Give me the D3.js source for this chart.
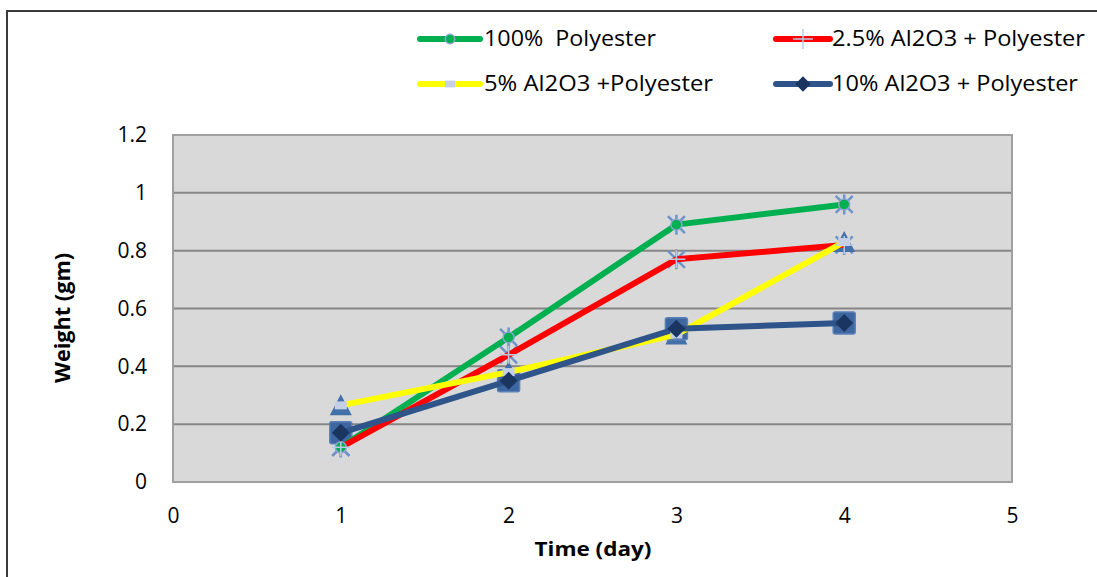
<!DOCTYPE html>
<html>
<head>
<meta charset="utf-8">
<script src="https://cdn.jsdelivr.net/npm/d3@7"></script>
<style>
  body { margin: 0; background: #fff; }
  text { font-family: "Open Sans", "Noto Sans", sans-serif; fill: #000; white-space: pre; }
</style>
</head>
<body>
<script>
// data
const days = [1, 2, 3, 4];
const seriesNames = ['100%  Polyester', '2.5% Al2O3 + Polyester', '5% Al2O3 +Polyester', '10% Al2O3 + Polyester'];
const polyester = [0.12, 0.50, 0.89, 0.96];
const al25 = [0.12, 0.44, 0.77, 0.82];
const al5 = [0.265, 0.38, 0.51, 0.83];
const al10 = [0.17, 0.35, 0.53, 0.55];
const xTicks = [0, 1, 2, 3, 4, 5];
const yTicks = [0, 0.2, 0.4, 0.6, 0.8, 1, 1.2];

const W = 1097, H = 577;
const plot = { left: 173, right: 1012, top: 135, bottom: 482 };

const series = [
  { name: seriesNames[0], values: polyester, color: '#00B050', back: 'asterisk', front: 'circle' },
  { name: seriesNames[1], values: al25, color: '#FF0000', back: 'asterisk', front: 'plus' },
  { name: seriesNames[2], values: al5, color: '#FFFF00', back: 'triangle', front: 'rect' },
  { name: seriesNames[3], values: al10, color: '#2F5489', back: 'square', front: 'diamond' }
];

const x = d3.scaleLinear().domain([0, 5]).range([plot.left, plot.right]);
const y = d3.scaleLinear().domain([0, 1.2]).range([plot.bottom, plot.top]);

const svg = d3.select('body').append('svg')
  .attr('width', W)
  .attr('height', H);

// outer chart border (right/bottom fall outside the picture)
svg.append('rect')
  .attr('x', 7).attr('y', 11)
  .attr('width', W + 20).attr('height', H + 20)
  .attr('fill', '#fff')
  .attr('stroke', '#3a3a3a')
  .attr('stroke-width', 2);

// plot area
svg.append('rect')
  .attr('x', plot.left).attr('y', plot.top)
  .attr('width', plot.right - plot.left).attr('height', plot.bottom - plot.top)
  .attr('fill', '#D9D9D9');

// gridlines
svg.append('g')
  .selectAll('line')
  .data(yTicks.slice(1, -1))
  .join('line')
  .attr('x1', plot.left).attr('x2', plot.right)
  .attr('y1', d => y(d)).attr('y2', d => y(d))
  .attr('stroke', '#868686')
  .attr('stroke-width', 2);

// plot border
svg.append('rect')
  .attr('x', plot.left).attr('y', plot.top)
  .attr('width', plot.right - plot.left).attr('height', plot.bottom - plot.top)
  .attr('fill', 'none')
  .attr('stroke', '#A0A0A0')
  .attr('stroke-width', 2);

// y axis labels
svg.append('g')
  .attr('transform', 'translate(' + (plot.left - 26) + ',0)')
  .call(d3.axisLeft(y).tickValues(yTicks).tickSize(0).tickPadding(0).tickFormat(d3.format('')))
  .call(g => g.select('.domain').remove())
  .selectAll('text')
  .style('font-family', '"Open Sans", sans-serif')
  .style('font-size', '21px')
  .attr('fill', '#000');

// x axis labels, sitting well below the plot like the original
svg.append('g')
  .attr('transform', 'translate(0,' + (plot.bottom + 26) + ')')
  .call(d3.axisBottom(x).tickValues(xTicks).tickSize(0).tickPadding(0).tickFormat(d3.format('d')))
  .call(g => g.select('.domain').remove())
  .selectAll('text')
  .style('font-family', '"Open Sans", sans-serif')
  .style('font-size', '21px')
  .attr('fill', '#000');

// axis titles
svg.append('text')
  .attr('x', 593).attr('y', 556)
  .attr('text-anchor', 'middle')
  .style('font-size', '20px')
  .style('font-weight', 'bold')
  .attr('textLength', 117)
  .attr('lengthAdjust', 'spacingAndGlyphs')
  .text('Time (day)');

svg.append('text')
  .attr('transform', 'translate(70,318) rotate(-90)')
  .attr('text-anchor', 'middle')
  .style('font-size', '21px')
  .style('font-weight', 'bold')
  .attr('textLength', 130)
  .attr('lengthAdjust', 'spacingAndGlyphs')
  .text('Weight (gm)');

// marker painters
function drawMarker(g, kind, color, s) {
  s = s || 1;
  if (kind === 'asterisk') {
    const r = 10 * s;
    const d = r * 0.85;
    g.append('path')
      .attr('d', `M${-d},${-d}L${d},${d}M${-d},${d}L${d},${-d}M0,${-r}L0,${r}`)
      .attr('stroke', '#6F93C9').attr('stroke-width', 2.5).attr('fill', 'none');
  } else if (kind === 'circle') {
    g.append('circle').attr('r', 5.5 * s)
      .attr('fill', color).attr('stroke', '#8BA6D1').attr('stroke-width', 1.5);
  } else if (kind === 'plus') {
    const r = 9 * s;
    g.append('path')
      .attr('d', `M${-r},0L${r},0M0,${-r}L0,${r}`)
      .attr('stroke', '#BCCBE4').attr('stroke-width', 1.5).attr('fill', 'none');
  } else if (kind === 'triangle') {
    const r = 11 * s;
    g.append('path')
      .attr('d', `M0,${-r}L${r},${r * 0.9}L${-r},${r * 0.9}Z`)
      .attr('fill', '#4470AA');
  } else if (kind === 'rect') {
    g.append('rect')
      .attr('x', -6 * s).attr('y', -4 * s)
      .attr('width', 12 * s).attr('height', 8 * s)
      .attr('fill', '#C5D0E6');
  } else if (kind === 'square') {
    const r = 11 * s;
    g.append('rect')
      .attr('x', -r).attr('y', -r)
      .attr('width', 2 * r).attr('height', 2 * r)
      .attr('rx', 2)
      .attr('fill', '#3E67A1').attr('stroke', '#5A80B8').attr('stroke-width', 1.5);
  } else if (kind === 'diamond') {
    const r = 9 * s;
    g.append('path')
      .attr('d', `M0,${-r}L${r},0L0,${r}L${-r},0Z`)
      .attr('fill', '#1B3561');
  }
}

// back markers
series.forEach(sr => {
  sr.values.forEach((v, i) => {
    const g = svg.append('g').attr('transform', `translate(${x(days[i])},${y(v)})`);
    drawMarker(g, sr.back, sr.color);
  });
});

// lines
const line = d3.line()
  .x((d, i) => x(days[i]))
  .y(d => y(d));

series.forEach(sr => {
  svg.append('path')
    .datum(sr.values)
    .attr('d', line)
    .attr('fill', 'none')
    .attr('stroke', sr.color)
    .attr('stroke-width', 6)
    .attr('stroke-linejoin', 'round');
});

// front markers
series.forEach(sr => {
  sr.values.forEach((v, i) => {
    const g = svg.append('g').attr('transform', `translate(${x(days[i])},${y(v)})`);
    drawMarker(g, sr.front, sr.color);
  });
});

// legend
const legendPos = [
  { lx: 420, ty: 39, tx: 484, w: 172 },
  { lx: 776, ty: 39, tx: 832, w: 253 },
  { lx: 420, ty: 84, tx: 484, w: 229 },
  { lx: 776, ty: 84, tx: 832, w: 246 }
];

series.forEach((sr, i) => {
  const p = legendPos[i];
  const lw = i % 2 === 0 ? 60 : 54;
  const g = svg.append('g');
  g.append('line')
    .attr('x1', p.lx).attr('x2', p.lx + lw)
    .attr('y1', p.ty).attr('y2', p.ty)
    .attr('stroke', sr.color)
    .attr('stroke-width', 6)
    .attr('stroke-linecap', 'round');
  const m = g.append('g').attr('transform', `translate(${p.lx + lw / 2},${p.ty})`);
  drawMarker(m, sr.front, sr.color, sr.front === 'plus' ? 1.1 : 0.85);
  g.append('text')
    .attr('x', p.tx).attr('y', p.ty + 7)
    .style('font-size', '21px')
    .attr('textLength', p.w)
    .attr('lengthAdjust', 'spacingAndGlyphs')
    .text(sr.name);
});
</script>
</body>
</html>
